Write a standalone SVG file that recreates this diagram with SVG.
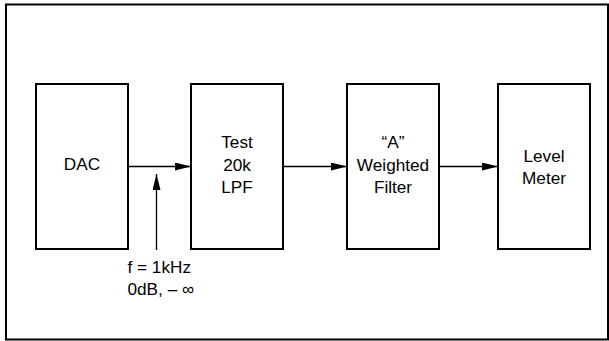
<svg xmlns="http://www.w3.org/2000/svg" width="609" height="341" viewBox="0 0 609 341">
<style>
.box{fill:#fff;stroke:#000;stroke-width:2}
.ln{fill:none;stroke:#000;stroke-width:1.3}
text{font-family:"Liberation Sans",Arial,sans-serif;font-size:17.2px;fill:#000}
.c{text-anchor:middle}
</style>
<defs>
<marker id="ah" viewBox="0 0 16 8" refX="16" refY="4" markerWidth="16" markerHeight="8" markerUnits="userSpaceOnUse" orient="auto">
<path d="M0,0 L16,4 L0,8 Z" fill="#000"/>
</marker>
</defs>
<rect x="6" y="4.5" width="602" height="335" fill="#fff" stroke="#000" stroke-width="2"/>
<g id="connectors">
<line class="ln" x1="128" y1="166.5" x2="191" y2="166.5" marker-end="url(#ah)"/>
<line class="ln" x1="156.5" y1="250" x2="156.5" y2="174" marker-end="url(#ah)"/>
<line class="ln" x1="283" y1="166.5" x2="347" y2="166.5" marker-end="url(#ah)"/>
<line class="ln" x1="439" y1="166.5" x2="498" y2="166.5" marker-end="url(#ah)"/>
</g>
<g id="dac">
<rect class="box" x="36" y="84" width="92" height="165"/>
<text class="c" x="82" y="170">DAC</text>
</g>
<g id="lpf">
<rect class="box" x="191" y="84" width="92" height="165"/>
<text class="c" x="237" y="147.5">Test</text>
<text class="c" x="237" y="170.5">20k</text>
<text class="c" x="237" y="193.3">LPF</text>
</g>
<g id="weighted">
<rect class="box" x="347" y="84" width="92" height="165"/>
<text class="c" x="393" y="148">“A”</text>
<text class="c" x="393" y="171">Weighted</text>
<text class="c" x="393" y="193.3">Filter</text>
</g>
<g id="meter">
<rect class="box" x="498" y="84" width="92" height="165"/>
<text class="c" x="544" y="161.7">Level</text>
<text class="c" x="544" y="183.5">Meter</text>
</g>
<g id="label">
<text x="127.5" y="273.3">f = 1kHz</text>
<text x="127.5" y="295">0dB, – ∞</text>
</g>
</svg>
